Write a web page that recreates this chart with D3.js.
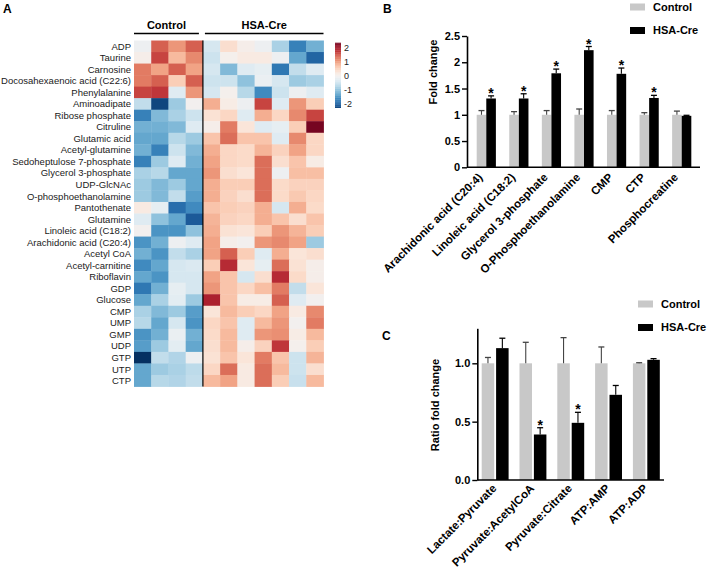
<!DOCTYPE html>
<html><head><meta charset="utf-8">
<script src="https://cdn.jsdelivr.net/npm/d3@7"></script>
<style>
body{margin:0;background:#fff}
svg{display:block;font-family:"Liberation Sans",Arial,sans-serif}
</style>
</head><body>
<svg id="chart" width="709" height="570"></svg>
<script>
// ---------- Panel A data ----------
const metabolites = ["ADP","Taurine","Carnosine","Docosahexaenoic acid (C22:6)","Phenylalanine","Aminoadipate","Ribose phosphate","Citruline","Glutamic acid","Acetyl-glutamine","Sedoheptulose 7-phosphate","Glycerol 3-phosphate","UDP-GlcNAc","O-phosphoethanolamine","Pantothenate","Glutamine","Linoleic acid (C18:2)","Arachidonic acid (C20:4)","Acetyl CoA","Acetyl-carnitine","Riboflavin","GDP","Glucose","CMP","UMP","GMP","UDP","GTP","UTP","CTP"];
const heatGroups = ["Control","HSA-Cre"];
const heatGroupSizes = [4, 7];
const heatValues = [
  [-0.1, 1.5, 1.1, 1.5, -0.4, 0.4, 0.1, -0.1, -0.8, -1.7, -1.2],
  [0.1, 1.7, 0.8, 1.2, -0.5, 0.05, 0.2, 0.2, -0.1, -1.3, -2.0],
  [1.3, 1.0, 1.5, 1.0, -0.4, -1.1, -0.3, -0.2, -1.8, -0.6, -0.3],
  [1.3, 1.5, 0.6, 1.5, -0.5, -0.5, -1.0, -0.15, -0.4, -0.9, -0.8],
  [1.7, 1.8, -0.3, 1.1, -0.4, 0.05, -0.7, -1.6, -0.5, -0.1, -0.3],
  [-0.6, -2.3, -0.9, 0.0, 0.9, 0.15, -0.1, 1.7, -0.3, 1.1, 0.6],
  [-1.7, -1.1, -0.8, -0.5, 0.35, 0.5, -0.3, 0.9, 0.5, 1.2, 1.7],
  [-1.2, -1.2, -1.1, -0.3, 0.1, 1.3, 0.3, -0.3, -0.2, 0.6, 2.4],
  [-1.3, -1.3, -0.7, -0.9, 0.7, 1.4, 0.7, 0.7, -0.3, 1.2, 0.5],
  [-1.2, -1.7, -0.5, -1.1, 0.9, 0.5, 0.45, 0.85, 0.55, 1.0, 0.5],
  [-1.7, -0.9, -0.3, -1.2, 1.0, 0.5, 0.45, 1.4, 0.4, 0.7, 0.15],
  [-0.8, -0.7, -1.3, -1.3, 1.1, 0.4, 0.3, 1.4, -0.1, 0.75, 0.75],
  [-0.9, -1.1, -0.9, -1.3, 0.9, 0.6, 0.6, 1.4, 0.45, 0.55, 0.55],
  [-0.9, -1.1, -0.6, -1.4, 0.9, 0.55, 0.4, 1.4, 0.45, 0.65, 0.5],
  [0.2, -0.2, -1.9, -1.6, 0.7, 0.6, 0.55, 0.9, -0.4, 0.9, 0.45],
  [-0.3, -1.0, -1.3, -2.1, 0.85, 0.55, 0.5, 0.9, 0.7, 0.4, 0.7],
  [0.0, -1.5, -1.5, -1.0, 0.9, 0.35, 0.3, 0.6, 1.1, 0.85, 0.6],
  [-1.5, -1.2, -0.1, -0.3, 1.0, 0.1, 0.0, 1.1, 1.2, 1.0, -0.9],
  [-1.2, -1.5, -0.6, -0.8, 1.0, 1.5, 0.6, -0.3, 0.9, 0.3, 0.4],
  [-1.6, -1.3, -0.4, -0.35, 0.6, 1.9, 0.3, -0.2, 1.4, 0.35, 0.1],
  [-1.3, -1.5, -0.4, -0.4, 1.0, 0.7, -0.4, 0.4, 1.9, 0.45, 0.1],
  [-1.8, -1.2, -0.2, -0.4, 1.1, 0.7, 0.5, 0.75, 1.3, -0.6, 0.3],
  [-1.3, -0.8, -0.25, -0.9, 2.0, 0.7, 0.15, 0.15, 1.5, -0.3, 0.0],
  [-0.8, -1.1, -0.9, -1.4, 0.3, 0.8, 0.6, 0.5, 1.0, 0.2, 1.2],
  [-0.7, -1.3, -0.4, -1.5, 0.5, 0.7, -0.3, 0.8, 1.1, 0.0, 1.3],
  [-1.5, -1.2, -0.15, -1.2, 0.45, 0.8, -0.3, 1.1, 1.15, 0.15, 0.8],
  [-1.4, -0.9, -0.25, -1.3, 0.4, 0.8, 0.1, 0.55, 1.8, 0.05, 0.6],
  [-2.5, -0.6, -0.75, -0.1, 0.35, 0.7, 0.3, 1.3, 0.7, -0.5, 0.85],
  [-1.3, -0.9, -0.8, -0.65, 0.5, 1.4, 0.2, 1.4, 0.8, -0.5, 0.4],
  [-1.3, -0.7, -0.75, -0.6, 0.8, 1.0, 0.2, 1.4, 0.6, -0.55, 0.8]
];
const colorbarTicks = [2, 1, 0, -1, -2];

// ---------- Panel B data ----------
const catB = ["Arachidonic acid (C20:4)","Linoleic acid (C18:2)","Glycerol 3-phosphate","O-Phosphoethanolamine","CMP","CTP","Phosphocreatine"];
const ctrlB = [1, 1, 1, 1, 1, 1, 1];
const ctrlErrB = [0.08, 0.06, 0.08, 0.11, 0.08, 0.04, 0.07];
const creB = [1.31, 1.31, 1.79, 2.23, 1.78, 1.32, 0.98];
const creErrB = [0.05, 0.09, 0.08, 0.07, 0.11, 0.05, 0.01];
const sigB = [true, true, true, true, true, true, false];
const ticksB = [0, 0.5, 1, 1.5, 2, 2.5];

// ---------- Panel C data ----------
const catC = ["Lactate:Pyruvate","Pyruvate:AcetylCoA","Pyruvate:Citrate","ATP:AMP","ATP:ADP"];
const ctrlC = [1, 1, 1, 1, 1];
const ctrlErrC = [0.05, 0.18, 0.22, 0.14, 0.005];
const creC = [1.13, 0.39, 0.49, 0.73, 1.03];
const creErrC = [0.085, 0.058, 0.09, 0.08, 0.01];
const sigC = [false, true, true, false, false];
const ticksC = [0, 0.5, 1.0];

const legendLabels = ["Control","HSA-Cre"];
const GRAY = "#c8c8c8", BLACK = "#000";

const svg = d3.select("#chart");
const bold = "bold";

// ================= Panel A =================
const nCols = d3.sum(heatGroupSizes);
const hx = d3.scaleBand().domain(d3.range(nCols)).range([134, 323.5]);
const hy = d3.scaleBand().domain(metabolites).range([40.5, 386.5]);
const heatColor = v => d3.interpolateRdBu(Math.max(0, Math.min(1, 0.5 - v / 5)));

const gA = svg.append("g");
gA.append("text").attr("x", 3).attr("y", 13.3).attr("font-size", 12).attr("font-weight", bold).text("A");

metabolites.forEach((m, i) => {
  gA.selectAll(null).data(heatValues[i]).enter().append("rect")
    .attr("x", (d, j) => hx(j)).attr("y", hy(m))
    .attr("width", hx.bandwidth() + 0.4).attr("height", hy.bandwidth() + 0.4)
    .attr("fill", d => heatColor(d));
});
gA.selectAll(".rl").data(metabolites).enter().append("text")
  .attr("x", 131).attr("y", d => hy(d) + hy.bandwidth() / 2).attr("dy", "0.35em")
  .attr("text-anchor", "end").attr("font-size", 9.5).attr("fill", "#1a1a1a").text(d => d);

// separator
const sepX = hx(heatGroupSizes[0]);
gA.append("line").attr("x1", sepX).attr("x2", sepX).attr("y1", 40.5).attr("y2", 386.5)
  .attr("stroke", "#000").attr("stroke-width", 1.2);

// group headers
let start = 0;
heatGroups.forEach((g, k) => {
  const x0 = hx(start) + (k > 0 ? 2 : 0);
  const x1 = hx(start + heatGroupSizes[k] - 1) + hx.bandwidth() - (k === 0 ? 4 : 0);
  gA.append("line").attr("x1", x0).attr("x2", x1).attr("y1", 33.5).attr("y2", 33.5)
    .attr("stroke", "#000").attr("stroke-width", 1.6);
  gA.append("text").attr("x", (x0 + x1) / 2).attr("y", 29).attr("text-anchor", "middle")
    .attr("font-size", 11).attr("font-weight", bold).text(g);
  start += heatGroupSizes[k];
});

// colorbar
const cb = d3.scaleLinear().domain([-2.3, 2.4]).range([107.7, 42.7]);
const steps = d3.range(-2.3, 2.4, 0.05);
gA.selectAll(".cb").data(steps).enter().append("rect")
  .attr("x", 335).attr("width", 6)
  .attr("y", d => cb(d + 0.05)).attr("height", d => cb(d) - cb(d + 0.05) + 0.3)
  .attr("fill", d => heatColor(d + 0.025));
gA.selectAll(".cbl").data(colorbarTicks).enter().append("text")
  .attr("x", 344).attr("y", d => cb(d)).attr("dy", "0.35em").attr("font-size", 9)
  .attr("fill", "#222").text(d => d);

// ================= bar panel helper =================
function barPanel(opt) {
  const g = svg.append("g");
  const xs = d3.scaleBand().domain(opt.cats).range(opt.xRange);
  const ys = d3.scaleLinear().domain(opt.yDomain).range(opt.yRange);
  const c = d => xs(d) + xs.bandwidth() / 2;

  g.append("text").attr("x", opt.label[1]).attr("y", opt.label[2]).attr("font-size", 12)
    .attr("font-weight", bold).text(opt.label[0]);

  const series = [
    {vals: opt.ctrl, err: opt.ctrlErr, fill: GRAY, dx: opt.grayDx, stroke: "#444"},
    {vals: opt.cre, err: opt.creErr, fill: BLACK, dx: opt.blackDx, stroke: "#000"}
  ];
  series.forEach(s => {
    g.selectAll(null).data(opt.cats).enter().append("rect")
      .attr("x", d => c(d) + s.dx).attr("width", opt.bw)
      .attr("y", (d, i) => ys(s.vals[i])).attr("height", (d, i) => ys(0) - ys(s.vals[i]))
      .attr("fill", s.fill);
    opt.cats.forEach((d, i) => {
      const cx = c(d) + s.dx + opt.bw / 2;
      const yt = ys(s.vals[i] + s.err[i]);
      g.append("line").attr("x1", cx).attr("x2", cx).attr("y1", ys(s.vals[i])).attr("y2", yt)
        .attr("stroke", s.stroke).attr("stroke-width", 1.1);
      g.append("line").attr("x1", cx - 3).attr("x2", cx + 3).attr("y1", yt).attr("y2", yt)
        .attr("stroke", s.stroke).attr("stroke-width", 1.3);
    });
  });
  opt.cats.forEach((d, i) => {
    if (!opt.sig[i]) return;
    const cx = c(d) + opt.blackDx + opt.bw / 2;
    g.append("text").attr("x", cx).attr("y", ys(opt.cre[i] + opt.creErr[i]) + 2)
      .attr("text-anchor", "middle").attr("font-size", 14).attr("font-weight", bold).text("*");
  });

  const ax = g.append("g").attr("transform", `translate(${opt.axisX},0)`)
    .call(d3.axisLeft(ys).tickValues(opt.ticks).tickFormat(opt.fmt).tickSize(5).tickSizeOuter(0));
  ax.select(".domain").attr("stroke-width", 1.6);
  ax.selectAll(".tick line").attr("stroke-width", 1.4);
  ax.selectAll(".tick text").attr("font-size", 11).attr("font-weight", bold)
    .attr("font-family", '"Liberation Sans",Arial,sans-serif').attr("fill", "#000").attr("x", -7);
  g.append("line").attr("x1", opt.axisX).attr("x2", opt.xEnd).attr("y1", ys(0)).attr("y2", ys(0))
    .attr("stroke", "#000").attr("stroke-width", 1.6);

  g.append("text").attr("transform", `translate(${opt.yLab[0]},${opt.yLab[1]}) rotate(-90)`)
    .attr("text-anchor", "middle").attr("font-size", 11).attr("font-weight", bold).text(opt.yTitle);

  g.selectAll(".xl").data(opt.cats).enter().append("text")
    .attr("transform", d => `translate(${c(d) + opt.xl[0]},${opt.xl[1]}) rotate(-45)`)
    .attr("text-anchor", "end").attr("font-size", 11.5).attr("font-weight", bold).text(d => d);

  legendLabels.forEach((l, k) => {
    const ly = opt.leg[1] + k * 23.5;
    g.append("rect").attr("x", opt.leg[0]).attr("y", ly - 3.5).attr("width", 15).attr("height", 7)
      .attr("fill", k === 0 ? GRAY : BLACK);
    g.append("text").attr("x", opt.leg[0] + 23).attr("y", ly).attr("dy", "0.35em")
      .attr("font-size", 11).attr("font-weight", bold).text(l);
  });
}

barPanel({
  cats: catB, ctrl: ctrlB, ctrlErr: ctrlErrB, cre: creB, creErr: creErrB, sig: sigB,
  xRange: [470, 698], yDomain: [0, 2.5], yRange: [167.3, 36], ticks: ticksB, fmt: d3.format("~g"),
  bw: 9.6, grayDx: -9.6, blackDx: 0, axisX: 467, xEnd: 700,
  label: ["B", 383, 13.3], yTitle: "Fold change", yLab: [437, 72], xl: [-3, 178], leg: [630, 7]
});

barPanel({
  cats: catC, ctrl: ctrlC, ctrlErr: ctrlErrC, cre: creC, creErr: creErrC, sig: sigC,
  xRange: [476.3, 665.3], yDomain: [0, 1.3], yRange: [480, 328.3], ticks: ticksC, fmt: d3.format(".1f"),
  bw: 12.5, grayDx: -13.5, blackDx: 0.9, axisX: 477.3, xEnd: 664,
  label: ["C", 382, 340], yTitle: "Ratio fold change", yLab: [439, 405], xl: [2, 489], leg: [638, 304]
});
</script>
</body></html>
